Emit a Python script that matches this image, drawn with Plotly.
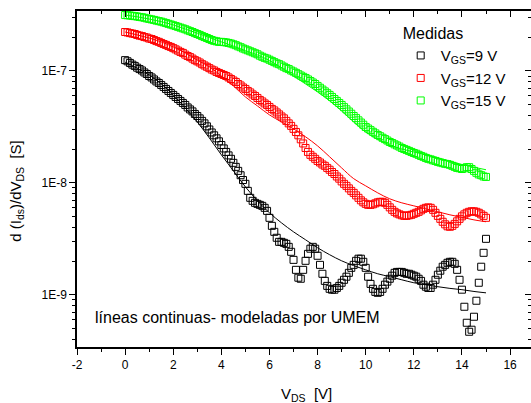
import numpy as np
import plotly.graph_objects as go

# Drain-source voltage sweep (V), 0.1 V step
vds = np.round(np.arange(151) * 0.1, 1)

# Measured dIds/dVds (S)
g_vgs9 = [
    1.25e-7, 1.22e-7, 1.18e-7, 1.14e-7, 1.11e-7, 1.07e-7, 1.04e-7, 1.01e-7, 9.70e-8, 9.40e-8,
    9.02e-8, 8.75e-8, 8.40e-8, 8.06e-8, 7.81e-8, 7.50e-8, 7.20e-8, 6.91e-8, 6.63e-8, 6.36e-8,
    6.11e-8, 5.86e-8, 5.62e-8, 5.40e-8, 5.18e-8, 4.97e-8, 4.72e-8, 4.53e-8, 4.35e-8, 4.13e-8,
    3.96e-8, 3.77e-8, 3.58e-8, 3.40e-8, 3.20e-8, 3.00e-8, 2.82e-8, 2.66e-8, 2.50e-8, 2.35e-8,
    2.18e-8, 2.03e-8, 1.89e-8, 1.76e-8, 1.64e-8, 1.51e-8, 1.39e-8, 1.28e-8, 1.17e-8, 1.06e-8,
    9.80e-9, 8.48e-9, 7.35e-9, 6.91e-9, 6.63e-9, 6.49e-9, 6.36e-9, 6.23e-9, 5.98e-9, 5.62e-9,
    4.87e-9, 4.13e-9, 3.65e-9, 3.23e-9, 2.97e-9, 2.97e-9, 2.91e-9, 2.85e-9, 2.68e-9, 2.42e-9,
    2.05e-9, 1.67e-9, 1.42e-9, 1.39e-9, 1.67e-9, 2.01e-9, 2.32e-9, 2.58e-9, 2.68e-9, 2.58e-9,
    2.23e-9, 1.85e-9, 1.54e-9, 1.33e-9, 1.20e-9, 1.13e-9, 1.11e-9, 1.11e-9, 1.15e-9, 1.20e-9,
    1.28e-9, 1.36e-9, 1.45e-9, 1.57e-9, 1.74e-9, 1.85e-9, 2.01e-9, 2.10e-9, 2.10e-9, 1.97e-9,
    1.74e-9, 1.45e-9, 1.25e-9, 1.13e-9, 1.06e-9, 1.04e-9, 1.06e-9, 1.13e-9, 1.23e-9, 1.31e-9,
    1.39e-9, 1.48e-9, 1.57e-9, 1.60e-9, 1.60e-9, 1.60e-9, 1.57e-9, 1.54e-9, 1.54e-9, 1.51e-9,
    1.48e-9, 1.45e-9, 1.39e-9, 1.33e-9, 1.23e-9, 1.18e-9, 1.15e-9, 1.15e-9, 1.23e-9, 1.36e-9,
    1.51e-9, 1.64e-9, 1.78e-9, 1.85e-9, 1.93e-9, 1.97e-9, 1.97e-9, 1.89e-9, 1.67e-9, 1.36e-9,
    1.11e-9, 7.81e-10, 5.62e-10, 4.67e-10, 4.87e-10, 6.36e-10, 8.84e-10, 1.28e-9, 1.78e-9, 2.37e-9,
    3.16e-9,
]
g_vgs12 = [
    2.23e-7, 2.21e-7, 2.18e-7, 2.16e-7, 2.14e-7, 2.10e-7, 2.07e-7, 2.05e-7, 2.01e-7, 1.99e-7,
    1.95e-7, 1.93e-7, 1.89e-7, 1.85e-7, 1.82e-7, 1.78e-7, 1.74e-7, 1.71e-7, 1.67e-7, 1.64e-7,
    1.60e-7, 1.56e-7, 1.52e-7, 1.48e-7, 1.45e-7, 1.40e-7, 1.36e-7, 1.33e-7, 1.29e-7, 1.25e-7,
    1.22e-7, 1.19e-7, 1.15e-7, 1.12e-7, 1.09e-7, 1.06e-7, 1.03e-7, 1.01e-7, 9.80e-8, 9.60e-8,
    9.40e-8, 9.21e-8, 9.02e-8, 8.75e-8, 8.48e-8, 8.22e-8, 7.98e-8, 7.65e-8, 7.42e-8, 7.12e-8,
    6.91e-8, 6.63e-8, 6.43e-8, 6.17e-8, 5.98e-8, 5.74e-8, 5.51e-8, 5.34e-8, 5.13e-8, 4.97e-8,
    4.77e-8, 4.58e-8, 4.44e-8, 4.26e-8, 4.09e-8, 3.92e-8, 3.77e-8, 3.58e-8, 3.40e-8, 3.23e-8,
    3.04e-8, 2.85e-8, 2.66e-8, 2.45e-8, 2.25e-8, 2.05e-8, 1.89e-8, 1.78e-8, 1.71e-8, 1.64e-8,
    1.57e-8, 1.52e-8, 1.46e-8, 1.42e-8, 1.36e-8, 1.31e-8, 1.25e-8, 1.20e-8, 1.14e-8, 1.09e-8,
    1.03e-8, 9.80e-9, 9.40e-9, 8.93e-9, 8.48e-9, 8.14e-9, 7.73e-9, 7.35e-9, 6.98e-9, 6.70e-9,
    6.49e-9, 6.36e-9, 6.36e-9, 6.43e-9, 6.56e-9, 6.70e-9, 6.77e-9, 6.77e-9, 6.63e-9, 6.36e-9,
    6.04e-9, 5.74e-9, 5.51e-9, 5.34e-9, 5.23e-9, 5.13e-9, 5.07e-9, 5.07e-9, 5.13e-9, 5.18e-9,
    5.29e-9, 5.40e-9, 5.51e-9, 5.68e-9, 5.86e-9, 5.98e-9, 6.04e-9, 5.98e-9, 5.74e-9, 5.40e-9,
    5.07e-9, 4.77e-9, 4.49e-9, 4.26e-9, 4.09e-9, 4.05e-9, 4.13e-9, 4.30e-9, 4.53e-9, 4.77e-9,
    5.02e-9, 5.23e-9, 5.40e-9, 5.51e-9, 5.57e-9, 5.57e-9, 5.51e-9, 5.40e-9, 5.23e-9, 5.07e-9,
    4.87e-9,
]
g_vgs15 = [
    3.16e-7, 3.15e-7, 3.13e-7, 3.11e-7, 3.09e-7, 3.07e-7, 3.04e-7, 3.02e-7, 2.99e-7, 2.95e-7,
    2.92e-7, 2.89e-7, 2.86e-7, 2.82e-7, 2.79e-7, 2.76e-7, 2.72e-7, 2.68e-7, 2.64e-7, 2.60e-7,
    2.56e-7, 2.52e-7, 2.48e-7, 2.44e-7, 2.40e-7, 2.36e-7, 2.31e-7, 2.27e-7, 2.23e-7, 2.18e-7,
    2.14e-7, 2.10e-7, 2.05e-7, 2.01e-7, 1.97e-7, 1.93e-7, 1.89e-7, 1.86e-7, 1.84e-7, 1.82e-7,
    1.82e-7, 1.81e-7, 1.80e-7, 1.78e-7, 1.76e-7, 1.73e-7, 1.70e-7, 1.66e-7, 1.63e-7, 1.59e-7,
    1.56e-7, 1.53e-7, 1.50e-7, 1.47e-7, 1.44e-7, 1.41e-7, 1.37e-7, 1.34e-7, 1.31e-7, 1.29e-7,
    1.26e-7, 1.23e-7, 1.20e-7, 1.17e-7, 1.15e-7, 1.12e-7, 1.09e-7, 1.06e-7, 1.04e-7, 1.01e-7,
    9.88e-8, 9.62e-8, 9.36e-8, 9.11e-8, 8.87e-8, 8.66e-8, 8.40e-8, 8.14e-8, 7.89e-8, 7.65e-8,
    7.35e-8, 7.08e-8, 6.82e-8, 6.57e-8, 6.33e-8, 6.11e-8, 5.86e-8, 5.62e-8, 5.40e-8, 5.18e-8,
    4.97e-8, 4.75e-8, 4.54e-8, 4.34e-8, 4.15e-8, 3.96e-8, 3.79e-8, 3.62e-8, 3.46e-8, 3.31e-8,
    3.16e-8, 3.06e-8, 2.96e-8, 2.86e-8, 2.77e-8, 2.68e-8, 2.61e-8, 2.53e-8, 2.46e-8, 2.39e-8,
    2.32e-8, 2.27e-8, 2.21e-8, 2.16e-8, 2.11e-8, 2.05e-8, 2.01e-8, 1.97e-8, 1.93e-8, 1.89e-8,
    1.85e-8, 1.82e-8, 1.78e-8, 1.74e-8, 1.71e-8, 1.67e-8, 1.64e-8, 1.62e-8, 1.59e-8, 1.57e-8,
    1.54e-8, 1.52e-8, 1.50e-8, 1.48e-8, 1.47e-8, 1.45e-8, 1.42e-8, 1.39e-8, 1.36e-8, 1.35e-8,
    1.33e-8, 1.35e-8, 1.38e-8, 1.38e-8, 1.33e-8, 1.28e-8, 1.23e-8, 1.19e-8, 1.17e-8, 1.14e-8,
    1.13e-8,
]

# UMEM model curves (S)
vds_model = [0, 0.5, 1, 1.5, 2, 2.5, 3, 3.5, 4, 4.5, 5, 5.5, 6, 6.5, 7, 7.5,
             8, 8.5, 9, 9.5, 10, 10.5, 11, 11.5, 12, 12.5, 13, 13.5, 14, 14.5, 15]
model_vgs9 = [1.20e-7, 1.06e-7, 9.21e-8, 7.65e-8, 6.11e-8, 4.67e-8, 3.50e-8, 2.52e-8,
              1.78e-8, 1.28e-8, 9.21e-9, 6.91e-9, 5.40e-9, 4.39e-9, 3.65e-9, 3.10e-9,
              2.63e-9, 2.28e-9, 2.01e-9, 1.82e-9, 1.67e-9, 1.54e-9, 1.45e-9, 1.36e-9,
              1.28e-9, 1.23e-9, 1.18e-9, 1.14e-9, 1.11e-9, 1.07e-9, 1.04e-9]
model_vgs12 = [2.23e-7, 2.10e-7, 1.97e-7, 1.82e-7, 1.64e-7, 1.45e-7, 1.25e-7, 1.09e-7,
               9.02e-8, 7.35e-8, 5.86e-8, 4.87e-8, 4.05e-8, 3.50e-8, 3.04e-8, 2.58e-8,
               2.14e-8, 1.71e-8, 1.36e-8, 1.09e-8, 9.40e-9, 8.14e-9, 7.20e-9, 6.63e-9,
               6.23e-9, 5.86e-9, 5.51e-9, 5.18e-9, 4.92e-9, 4.67e-9, 4.49e-9]
model_vgs15 = [3.16e-7, 3.05e-7, 2.91e-7, 2.76e-7, 2.58e-7, 2.37e-7, 2.18e-7, 1.99e-7,
               1.82e-7, 1.67e-7, 1.52e-7, 1.39e-7, 1.24e-7, 1.07e-7, 9.02e-8, 7.65e-8,
               6.49e-8, 5.40e-8, 4.39e-8, 3.50e-8, 2.85e-8, 2.45e-8, 2.18e-8, 2.01e-8,
               1.89e-8, 1.78e-8, 1.67e-8, 1.56e-8, 1.46e-8, 1.38e-8, 1.31e-8]

series = [
    ("V<sub>GS</sub>=9 V", g_vgs9, model_vgs9, "#000000"),
    ("V<sub>GS</sub>=12 V", g_vgs12, model_vgs12, "#ff0000"),
    ("V<sub>GS</sub>=15 V", g_vgs15, model_vgs15, "#00ff00"),
]

x_ticks = [-2, 0, 2, 4, 6, 8, 10, 12, 14, 16]
x_ticktext = ["-2", "0", "2", "4", "6", "8", "10", "12", "14", "16"]
y_ticks = [1e-9, 1e-8, 1e-7]
y_ticktext = ["1E-9", "1E-8", "1E-7"]

FONT = "Liberation Sans, Arial, sans-serif"
X_RANGE = [-2, 16.87]
Y_RANGE = [-9.467, -6.464]

fig = go.Figure()
for name, meas, model, color in series:
    fig.add_trace(go.Scatter(
        x=vds_model, y=model, mode="lines", line=dict(color=color, width=1, shape="spline"),
        showlegend=False, hoverinfo="skip"))
for name, meas, model, color in series:
    fig.add_trace(go.Scatter(
        x=vds, y=meas, mode="markers", name=name,
        marker=dict(symbol="square-open", size=7, color=color, line=dict(width=1, color=color))))

# empty trace so the mirrored top/right axes are drawn
fig.add_trace(go.Scatter(x=[], y=[], xaxis="x2", yaxis="y2", showlegend=False))

minor_y = [m * 10.0 ** e for e in range(-10, -6) for m in range(2, 10)]
minor_x = [-1, 1, 3, 5, 7, 9, 11, 13, 15]

axis_common = dict(showline=True, linecolor="black", linewidth=1.5, showgrid=False,
                   zeroline=False, tickcolor="black", tickwidth=1.2,
                   tickfont=dict(family=FONT, size=12, color="black"))

fig.update_layout(
    width=531, height=403,
    margin=dict(l=77, r=0, t=11, b=56),
    paper_bgcolor="white", plot_bgcolor="white",
    font=dict(family=FONT, color="black"),
    xaxis=dict(range=X_RANGE, tickvals=x_ticks, ticktext=x_ticktext, ticks="outside", ticklen=6,
               minor=dict(tickvals=minor_x, ticks="outside", ticklen=3, tickcolor="black"),
               **axis_common),
    yaxis=dict(type="log", range=Y_RANGE, tickvals=y_ticks, ticktext=y_ticktext,
               ticks="outside", ticklen=6,
               minor=dict(tickvals=minor_y, ticks="outside", ticklen=3, tickcolor="black"),
               **axis_common),
    xaxis2=dict(overlaying="x", side="top", anchor="y", range=X_RANGE, tickvals=x_ticks,
                ticks="inside", ticklen=6, showticklabels=False,
                minor=dict(tickvals=minor_x, ticks="inside", ticklen=3, tickcolor="black"),
                **axis_common),
    yaxis2=dict(overlaying="y", side="right", anchor="x", type="log", range=Y_RANGE,
                tickvals=y_ticks, ticks="inside", ticklen=6, showticklabels=False,
                minor=dict(tickvals=minor_y, ticks="inside", ticklen=3, tickcolor="black"),
                **axis_common),
    legend=dict(x=0.713, y=0.978, xanchor="left", yanchor="top",
                title=dict(text="Medidas", font=dict(family=FONT, size=16)),
                font=dict(family=FONT, size=15), bgcolor="rgba(0,0,0,0)",
                tracegroupgap=0),
    showlegend=True,
)

fig.add_annotation(text="líneas continuas- modeladas por UMEM", xref="paper", yref="paper",
                   x=0.035, y=0.087, xanchor="left", yanchor="middle", showarrow=False,
                   font=dict(family=FONT, size=16))
fig.add_annotation(text="V<sub>DS</sub>  [V]", xref="paper", yref="paper",
                   x=0.505, y=-0.14, xanchor="center", yanchor="middle", showarrow=False,
                   font=dict(family=FONT, size=15))
fig.add_annotation(text="d (I<sub>ds</sub>)/dV<sub>DS</sub>  [S]", xref="paper", yref="paper",
                   x=-0.135, y=0.464, xanchor="center", yanchor="middle", textangle=-90,
                   showarrow=False, font=dict(family=FONT, size=15))

fig.write_html("out.html")
